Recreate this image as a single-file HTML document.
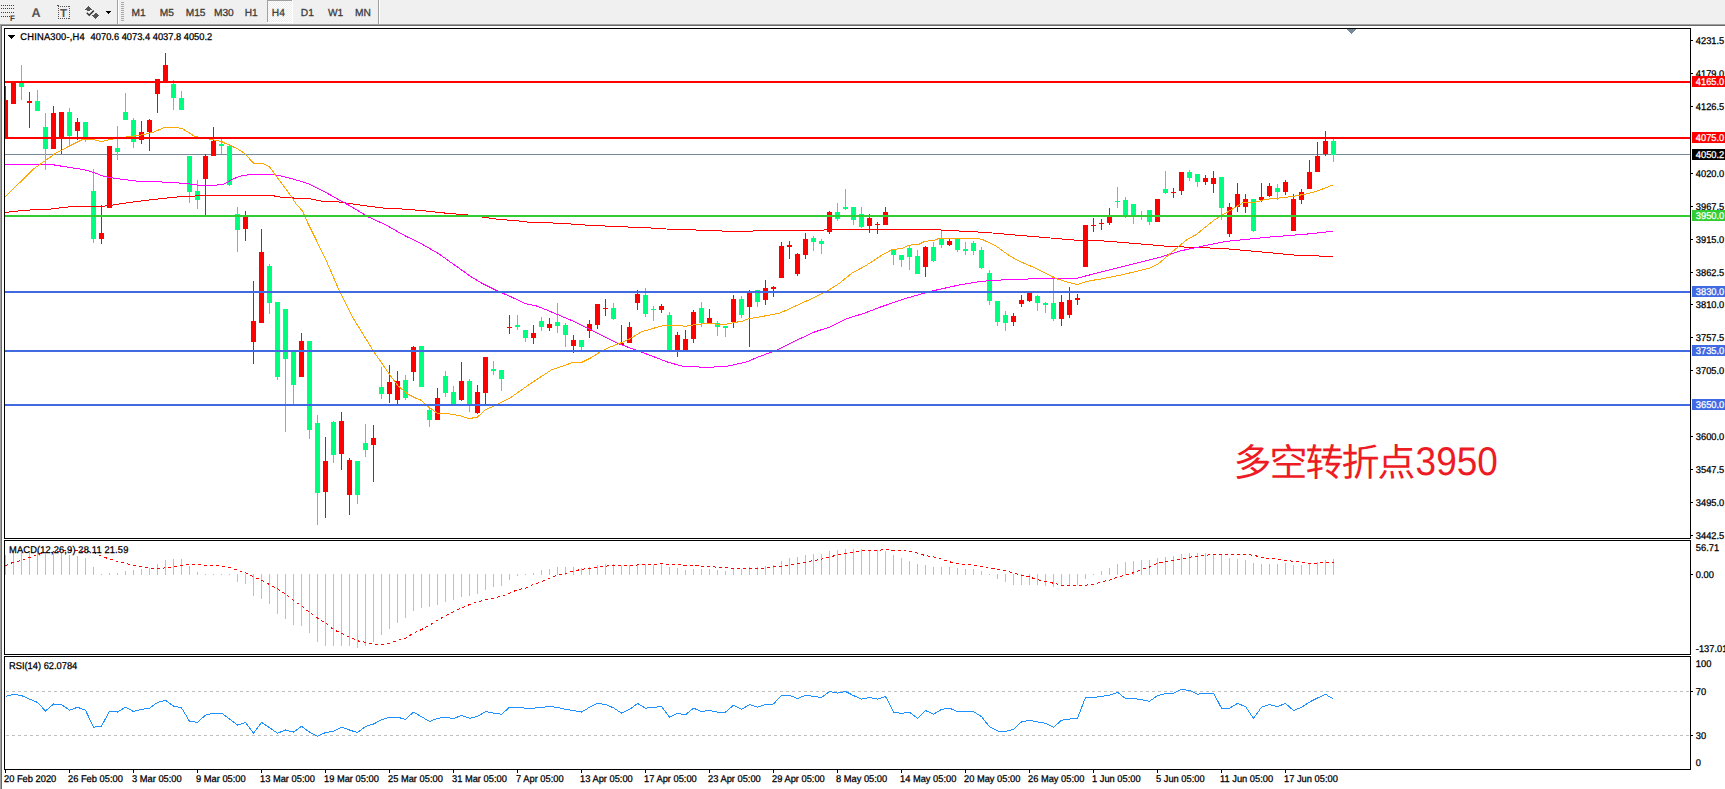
<!DOCTYPE html>
<html><head><meta charset="utf-8"><title>CHINA300 H4</title>
<style>
html,body{margin:0;padding:0;width:1725px;height:789px;overflow:hidden;background:#fff}
svg{position:absolute;left:0;top:0;display:block}
text{font-family:"Liberation Sans",sans-serif;font-size:9.8px;text-rendering:geometricPrecision}
</style></head><body>
<svg width="1725" height="789" viewBox="0 0 1725 789" shape-rendering="crispEdges">
<defs><pattern id="chk" width="2" height="2" patternUnits="userSpaceOnUse"><rect width="2" height="2" fill="#fff"/><rect width="1" height="1" fill="#ececec"/><rect x="1" y="1" width="1" height="1" fill="#ececec"/></pattern></defs>
<rect x="0" y="0" width="1725" height="24" fill="#f0f0f0"/>
<rect x="0" y="24" width="1725" height="1" fill="#a0a0a0"/>
<rect x="0" y="25" width="1725" height="1" fill="#696969"/>
<rect x="0" y="24" width="1" height="765" fill="#a0a0a0"/>
<rect x="1" y="25" width="1" height="764" fill="#696969"/>
<defs><clipPath id="cm"><rect x="5" y="29" width="1685" height="509"/></clipPath><clipPath id="cd"><rect x="5" y="541" width="1685" height="113"/></clipPath><clipPath id="cr"><rect x="5" y="657" width="1685" height="112"/></clipPath></defs>
<g clip-path="url(#cm)">
<rect x="5" y="154" width="1685" height="1" fill="#778899"/>
<rect x="5" y="86" width="1" height="51" fill="#ff0000"/>
<rect x="3" y="100" width="5" height="37" fill="#ff0000"/>
<rect x="13" y="82" width="1" height="22" fill="#ff0000"/>
<rect x="11" y="82" width="5" height="22" fill="#ff0000"/>
<rect x="21" y="65" width="1" height="35" fill="#00ff7f"/>
<rect x="19" y="82" width="5" height="5" fill="#00ff7f"/>
<rect x="29" y="92" width="1" height="36" fill="#ff0000"/>
<rect x="27" y="101" width="5" height="2" fill="#ff0000"/>
<rect x="37" y="90" width="1" height="21" fill="#00ff7f"/>
<rect x="35" y="101" width="5" height="10" fill="#00ff7f"/>
<rect x="45" y="113" width="1" height="57" fill="#00ff7f"/>
<rect x="43" y="127" width="5" height="22" fill="#00ff7f"/>
<rect x="53" y="106" width="1" height="43" fill="#ff0000"/>
<rect x="51" y="113" width="5" height="36" fill="#ff0000"/>
<rect x="61" y="112" width="1" height="42" fill="#ff0000"/>
<rect x="59" y="112" width="5" height="27" fill="#ff0000"/>
<rect x="69" y="108" width="1" height="38" fill="#00ff7f"/>
<rect x="67" y="112" width="5" height="24" fill="#00ff7f"/>
<rect x="77" y="118" width="1" height="22" fill="#ff0000"/>
<rect x="75" y="122" width="5" height="9" fill="#ff0000"/>
<rect x="85" y="122" width="1" height="20" fill="#00ff7f"/>
<rect x="83" y="122" width="5" height="15" fill="#00ff7f"/>
<rect x="93" y="169" width="1" height="74" fill="#00ff7f"/>
<rect x="91" y="191" width="5" height="48" fill="#00ff7f"/>
<rect x="101" y="205" width="1" height="39" fill="#ff0000"/>
<rect x="99" y="233" width="5" height="6" fill="#ff0000"/>
<rect x="109" y="146" width="1" height="62" fill="#ff0000"/>
<rect x="107" y="146" width="5" height="62" fill="#ff0000"/>
<rect x="117" y="126" width="1" height="34" fill="#00ff7f"/>
<rect x="115" y="148" width="5" height="4" fill="#00ff7f"/>
<rect x="125" y="93" width="1" height="27" fill="#00ff7f"/>
<rect x="123" y="112" width="5" height="8" fill="#00ff7f"/>
<rect x="133" y="118" width="1" height="30" fill="#00ff7f"/>
<rect x="131" y="120" width="5" height="22" fill="#00ff7f"/>
<rect x="141" y="121" width="1" height="23" fill="#ff0000"/>
<rect x="139" y="132" width="5" height="8" fill="#ff0000"/>
<rect x="149" y="119" width="1" height="32" fill="#ff0000"/>
<rect x="147" y="120" width="5" height="12" fill="#ff0000"/>
<rect x="157" y="79" width="1" height="34" fill="#ff0000"/>
<rect x="155" y="79" width="5" height="15" fill="#ff0000"/>
<rect x="165" y="53" width="1" height="29" fill="#ff0000"/>
<rect x="163" y="65" width="5" height="17" fill="#ff0000"/>
<rect x="173" y="80" width="1" height="30" fill="#00ff7f"/>
<rect x="171" y="84" width="5" height="14" fill="#00ff7f"/>
<rect x="181" y="91" width="1" height="19" fill="#00ff7f"/>
<rect x="179" y="98" width="5" height="12" fill="#00ff7f"/>
<rect x="189" y="156" width="1" height="47" fill="#00ff7f"/>
<rect x="187" y="156" width="5" height="36" fill="#00ff7f"/>
<rect x="197" y="180" width="1" height="29" fill="#00ff7f"/>
<rect x="195" y="191" width="5" height="9" fill="#00ff7f"/>
<rect x="205" y="154" width="1" height="63" fill="#ff0000"/>
<rect x="203" y="156" width="5" height="23" fill="#ff0000"/>
<rect x="213" y="127" width="1" height="29" fill="#ff0000"/>
<rect x="211" y="141" width="5" height="15" fill="#ff0000"/>
<rect x="221" y="139" width="1" height="15" fill="#00ff7f"/>
<rect x="219" y="144" width="5" height="2" fill="#00ff7f"/>
<rect x="229" y="144" width="1" height="42" fill="#00ff7f"/>
<rect x="227" y="146" width="5" height="39" fill="#00ff7f"/>
<rect x="237" y="207" width="1" height="45" fill="#00ff7f"/>
<rect x="235" y="214" width="5" height="16" fill="#00ff7f"/>
<rect x="245" y="211" width="1" height="30" fill="#ff0000"/>
<rect x="243" y="216" width="5" height="13" fill="#ff0000"/>
<rect x="253" y="281" width="1" height="83" fill="#ff0000"/>
<rect x="251" y="321" width="5" height="21" fill="#ff0000"/>
<rect x="261" y="229" width="1" height="94" fill="#ff0000"/>
<rect x="259" y="252" width="5" height="71" fill="#ff0000"/>
<rect x="269" y="264" width="1" height="50" fill="#00ff7f"/>
<rect x="267" y="266" width="5" height="37" fill="#00ff7f"/>
<rect x="277" y="302" width="1" height="78" fill="#00ff7f"/>
<rect x="275" y="302" width="5" height="75" fill="#00ff7f"/>
<rect x="285" y="309" width="1" height="123" fill="#00ff7f"/>
<rect x="283" y="309" width="5" height="50" fill="#00ff7f"/>
<rect x="293" y="352" width="1" height="52" fill="#00ff7f"/>
<rect x="291" y="352" width="5" height="33" fill="#00ff7f"/>
<rect x="301" y="333" width="1" height="44" fill="#ff0000"/>
<rect x="299" y="341" width="5" height="36" fill="#ff0000"/>
<rect x="309" y="341" width="1" height="98" fill="#00ff7f"/>
<rect x="307" y="341" width="5" height="89" fill="#00ff7f"/>
<rect x="317" y="415" width="1" height="110" fill="#00ff7f"/>
<rect x="315" y="423" width="5" height="70" fill="#00ff7f"/>
<rect x="325" y="437" width="1" height="81" fill="#ff0000"/>
<rect x="323" y="461" width="5" height="31" fill="#ff0000"/>
<rect x="333" y="421" width="1" height="42" fill="#00ff7f"/>
<rect x="331" y="422" width="5" height="33" fill="#00ff7f"/>
<rect x="341" y="412" width="1" height="58" fill="#ff0000"/>
<rect x="339" y="421" width="5" height="33" fill="#ff0000"/>
<rect x="349" y="458" width="1" height="57" fill="#ff0000"/>
<rect x="347" y="460" width="5" height="35" fill="#ff0000"/>
<rect x="357" y="461" width="1" height="43" fill="#00ff7f"/>
<rect x="355" y="461" width="5" height="34" fill="#00ff7f"/>
<rect x="365" y="424" width="1" height="33" fill="#00ff7f"/>
<rect x="363" y="443" width="5" height="7" fill="#00ff7f"/>
<rect x="373" y="425" width="1" height="57" fill="#ff0000"/>
<rect x="371" y="438" width="5" height="7" fill="#ff0000"/>
<rect x="381" y="367" width="1" height="32" fill="#00ff7f"/>
<rect x="379" y="387" width="5" height="7" fill="#00ff7f"/>
<rect x="389" y="365" width="1" height="38" fill="#ff0000"/>
<rect x="387" y="382" width="5" height="12" fill="#ff0000"/>
<rect x="397" y="371" width="1" height="33" fill="#ff0000"/>
<rect x="395" y="381" width="5" height="19" fill="#ff0000"/>
<rect x="405" y="375" width="1" height="25" fill="#00ff7f"/>
<rect x="403" y="380" width="5" height="18" fill="#00ff7f"/>
<rect x="413" y="346" width="1" height="35" fill="#ff0000"/>
<rect x="411" y="347" width="5" height="25" fill="#ff0000"/>
<rect x="421" y="346" width="1" height="41" fill="#00ff7f"/>
<rect x="419" y="346" width="5" height="41" fill="#00ff7f"/>
<rect x="429" y="407" width="1" height="20" fill="#00ff7f"/>
<rect x="427" y="410" width="5" height="10" fill="#00ff7f"/>
<rect x="437" y="388" width="1" height="32" fill="#ff0000"/>
<rect x="435" y="398" width="5" height="22" fill="#ff0000"/>
<rect x="445" y="371" width="1" height="26" fill="#00ff7f"/>
<rect x="443" y="376" width="5" height="17" fill="#00ff7f"/>
<rect x="453" y="386" width="1" height="18" fill="#00ff7f"/>
<rect x="451" y="392" width="5" height="12" fill="#00ff7f"/>
<rect x="461" y="362" width="1" height="39" fill="#ff0000"/>
<rect x="459" y="381" width="5" height="19" fill="#ff0000"/>
<rect x="469" y="379" width="1" height="33" fill="#00ff7f"/>
<rect x="467" y="381" width="5" height="25" fill="#00ff7f"/>
<rect x="477" y="385" width="1" height="29" fill="#ff0000"/>
<rect x="475" y="392" width="5" height="21" fill="#ff0000"/>
<rect x="485" y="357" width="1" height="47" fill="#ff0000"/>
<rect x="483" y="357" width="5" height="36" fill="#ff0000"/>
<rect x="493" y="361" width="1" height="14" fill="#00ff7f"/>
<rect x="491" y="369" width="5" height="2" fill="#00ff7f"/>
<rect x="501" y="370" width="1" height="21" fill="#00ff7f"/>
<rect x="499" y="370" width="5" height="9" fill="#00ff7f"/>
<rect x="509" y="315" width="1" height="19" fill="#ff0000"/>
<rect x="507" y="327" width="5" height="1" fill="#ff0000"/>
<rect x="517" y="315" width="1" height="15" fill="#00ff7f"/>
<rect x="515" y="325" width="5" height="2" fill="#00ff7f"/>
<rect x="525" y="330" width="1" height="12" fill="#00ff7f"/>
<rect x="523" y="330" width="5" height="8" fill="#00ff7f"/>
<rect x="533" y="325" width="1" height="19" fill="#ff0000"/>
<rect x="531" y="333" width="5" height="5" fill="#ff0000"/>
<rect x="541" y="317" width="1" height="14" fill="#00ff7f"/>
<rect x="539" y="321" width="5" height="6" fill="#00ff7f"/>
<rect x="549" y="318" width="1" height="13" fill="#ff0000"/>
<rect x="547" y="324" width="5" height="4" fill="#ff0000"/>
<rect x="557" y="303" width="1" height="30" fill="#00ff7f"/>
<rect x="555" y="322" width="5" height="4" fill="#00ff7f"/>
<rect x="565" y="323" width="1" height="24" fill="#00ff7f"/>
<rect x="563" y="325" width="5" height="10" fill="#00ff7f"/>
<rect x="573" y="335" width="1" height="18" fill="#ff0000"/>
<rect x="571" y="340" width="5" height="6" fill="#ff0000"/>
<rect x="581" y="340" width="1" height="10" fill="#00ff7f"/>
<rect x="579" y="340" width="5" height="7" fill="#00ff7f"/>
<rect x="589" y="320" width="1" height="18" fill="#ff0000"/>
<rect x="587" y="324" width="5" height="7" fill="#ff0000"/>
<rect x="597" y="304" width="1" height="25" fill="#ff0000"/>
<rect x="595" y="304" width="5" height="21" fill="#ff0000"/>
<rect x="605" y="299" width="1" height="17" fill="#ff0000"/>
<rect x="603" y="308" width="5" height="1" fill="#ff0000"/>
<rect x="613" y="303" width="1" height="17" fill="#00ff7f"/>
<rect x="611" y="308" width="5" height="11" fill="#00ff7f"/>
<rect x="621" y="325" width="1" height="20" fill="#ff0000"/>
<rect x="619" y="343" width="5" height="2" fill="#ff0000"/>
<rect x="629" y="322" width="1" height="21" fill="#ff0000"/>
<rect x="627" y="327" width="5" height="16" fill="#ff0000"/>
<rect x="637" y="290" width="1" height="20" fill="#ff0000"/>
<rect x="635" y="294" width="5" height="9" fill="#ff0000"/>
<rect x="645" y="288" width="1" height="29" fill="#00ff7f"/>
<rect x="643" y="295" width="5" height="19" fill="#00ff7f"/>
<rect x="653" y="306" width="1" height="15" fill="#00ff7f"/>
<rect x="651" y="309" width="5" height="1" fill="#00ff7f"/>
<rect x="661" y="304" width="1" height="9" fill="#ff0000"/>
<rect x="659" y="306" width="5" height="4" fill="#ff0000"/>
<rect x="669" y="312" width="1" height="38" fill="#00ff7f"/>
<rect x="667" y="315" width="5" height="35" fill="#00ff7f"/>
<rect x="677" y="332" width="1" height="25" fill="#ff0000"/>
<rect x="675" y="335" width="5" height="15" fill="#ff0000"/>
<rect x="685" y="330" width="1" height="20" fill="#ff0000"/>
<rect x="683" y="339" width="5" height="11" fill="#ff0000"/>
<rect x="693" y="310" width="1" height="33" fill="#ff0000"/>
<rect x="691" y="312" width="5" height="27" fill="#ff0000"/>
<rect x="701" y="302" width="1" height="25" fill="#00ff7f"/>
<rect x="699" y="308" width="5" height="15" fill="#00ff7f"/>
<rect x="709" y="309" width="1" height="14" fill="#ff0000"/>
<rect x="707" y="318" width="5" height="5" fill="#ff0000"/>
<rect x="717" y="321" width="1" height="15" fill="#00ff7f"/>
<rect x="715" y="323" width="5" height="4" fill="#00ff7f"/>
<rect x="725" y="326" width="1" height="11" fill="#00ff7f"/>
<rect x="723" y="326" width="5" height="2" fill="#00ff7f"/>
<rect x="733" y="295" width="1" height="33" fill="#ff0000"/>
<rect x="731" y="299" width="5" height="23" fill="#ff0000"/>
<rect x="741" y="296" width="1" height="22" fill="#00ff7f"/>
<rect x="739" y="299" width="5" height="16" fill="#00ff7f"/>
<rect x="749" y="290" width="1" height="57" fill="#ff0000"/>
<rect x="747" y="292" width="5" height="15" fill="#ff0000"/>
<rect x="757" y="290" width="1" height="17" fill="#00ff7f"/>
<rect x="755" y="290" width="5" height="12" fill="#00ff7f"/>
<rect x="765" y="280" width="1" height="25" fill="#ff0000"/>
<rect x="763" y="288" width="5" height="12" fill="#ff0000"/>
<rect x="773" y="286" width="1" height="11" fill="#ff0000"/>
<rect x="771" y="287" width="5" height="2" fill="#ff0000"/>
<rect x="781" y="242" width="1" height="36" fill="#ff0000"/>
<rect x="779" y="246" width="5" height="32" fill="#ff0000"/>
<rect x="789" y="241" width="1" height="18" fill="#ff0000"/>
<rect x="787" y="245" width="5" height="2" fill="#ff0000"/>
<rect x="797" y="253" width="1" height="23" fill="#ff0000"/>
<rect x="795" y="254" width="5" height="20" fill="#ff0000"/>
<rect x="805" y="233" width="1" height="26" fill="#ff0000"/>
<rect x="803" y="239" width="5" height="16" fill="#ff0000"/>
<rect x="813" y="236" width="1" height="15" fill="#00ff7f"/>
<rect x="811" y="238" width="5" height="4" fill="#00ff7f"/>
<rect x="821" y="239" width="1" height="15" fill="#00ff7f"/>
<rect x="819" y="241" width="5" height="3" fill="#00ff7f"/>
<rect x="829" y="211" width="1" height="23" fill="#ff0000"/>
<rect x="827" y="212" width="5" height="20" fill="#ff0000"/>
<rect x="837" y="203" width="1" height="18" fill="#00ff7f"/>
<rect x="835" y="212" width="5" height="7" fill="#00ff7f"/>
<rect x="845" y="189" width="1" height="21" fill="#00ff7f"/>
<rect x="843" y="207" width="5" height="2" fill="#00ff7f"/>
<rect x="853" y="207" width="1" height="18" fill="#00ff7f"/>
<rect x="851" y="207" width="5" height="13" fill="#00ff7f"/>
<rect x="861" y="207" width="1" height="21" fill="#00ff7f"/>
<rect x="859" y="214" width="5" height="13" fill="#00ff7f"/>
<rect x="869" y="214" width="1" height="19" fill="#ff0000"/>
<rect x="867" y="218" width="5" height="8" fill="#ff0000"/>
<rect x="877" y="222" width="1" height="12" fill="#ff0000"/>
<rect x="875" y="224" width="5" height="1" fill="#ff0000"/>
<rect x="885" y="207" width="1" height="18" fill="#ff0000"/>
<rect x="883" y="212" width="5" height="13" fill="#ff0000"/>
<rect x="893" y="249" width="1" height="16" fill="#00ff7f"/>
<rect x="891" y="250" width="5" height="5" fill="#00ff7f"/>
<rect x="901" y="255" width="1" height="12" fill="#00ff7f"/>
<rect x="899" y="255" width="5" height="5" fill="#00ff7f"/>
<rect x="909" y="246" width="1" height="24" fill="#00ff7f"/>
<rect x="907" y="248" width="5" height="9" fill="#00ff7f"/>
<rect x="917" y="250" width="1" height="24" fill="#00ff7f"/>
<rect x="915" y="256" width="5" height="18" fill="#00ff7f"/>
<rect x="925" y="246" width="1" height="31" fill="#ff0000"/>
<rect x="923" y="247" width="5" height="20" fill="#ff0000"/>
<rect x="933" y="242" width="1" height="20" fill="#00ff7f"/>
<rect x="931" y="247" width="5" height="14" fill="#00ff7f"/>
<rect x="941" y="231" width="1" height="17" fill="#00ff7f"/>
<rect x="939" y="239" width="5" height="6" fill="#00ff7f"/>
<rect x="949" y="239" width="1" height="7" fill="#ff0000"/>
<rect x="947" y="241" width="5" height="4" fill="#ff0000"/>
<rect x="957" y="239" width="1" height="13" fill="#00ff7f"/>
<rect x="955" y="239" width="5" height="11" fill="#00ff7f"/>
<rect x="965" y="242" width="1" height="13" fill="#00ff7f"/>
<rect x="963" y="249" width="5" height="2" fill="#00ff7f"/>
<rect x="973" y="241" width="1" height="14" fill="#00ff7f"/>
<rect x="971" y="243" width="5" height="8" fill="#00ff7f"/>
<rect x="981" y="247" width="1" height="22" fill="#00ff7f"/>
<rect x="979" y="250" width="5" height="18" fill="#00ff7f"/>
<rect x="989" y="270" width="1" height="35" fill="#00ff7f"/>
<rect x="987" y="273" width="5" height="28" fill="#00ff7f"/>
<rect x="997" y="301" width="1" height="25" fill="#00ff7f"/>
<rect x="995" y="301" width="5" height="21" fill="#00ff7f"/>
<rect x="1005" y="311" width="1" height="20" fill="#00ff7f"/>
<rect x="1003" y="315" width="5" height="8" fill="#00ff7f"/>
<rect x="1013" y="313" width="1" height="13" fill="#ff0000"/>
<rect x="1011" y="316" width="5" height="6" fill="#ff0000"/>
<rect x="1021" y="295" width="1" height="12" fill="#ff0000"/>
<rect x="1019" y="300" width="5" height="4" fill="#ff0000"/>
<rect x="1029" y="293" width="1" height="9" fill="#ff0000"/>
<rect x="1027" y="293" width="5" height="8" fill="#ff0000"/>
<rect x="1037" y="295" width="1" height="16" fill="#00ff7f"/>
<rect x="1035" y="296" width="5" height="7" fill="#00ff7f"/>
<rect x="1045" y="302" width="1" height="11" fill="#00ff7f"/>
<rect x="1043" y="303" width="5" height="2" fill="#00ff7f"/>
<rect x="1053" y="276" width="1" height="45" fill="#00ff7f"/>
<rect x="1051" y="303" width="5" height="16" fill="#00ff7f"/>
<rect x="1061" y="295" width="1" height="31" fill="#ff0000"/>
<rect x="1059" y="302" width="5" height="17" fill="#ff0000"/>
<rect x="1069" y="287" width="1" height="31" fill="#ff0000"/>
<rect x="1067" y="300" width="5" height="15" fill="#ff0000"/>
<rect x="1077" y="294" width="1" height="11" fill="#ff0000"/>
<rect x="1075" y="298" width="5" height="2" fill="#ff0000"/>
<rect x="1085" y="225" width="1" height="42" fill="#ff0000"/>
<rect x="1083" y="225" width="5" height="42" fill="#ff0000"/>
<rect x="1093" y="218" width="1" height="14" fill="#ff0000"/>
<rect x="1091" y="225" width="5" height="1" fill="#ff0000"/>
<rect x="1101" y="219" width="1" height="11" fill="#ff0000"/>
<rect x="1099" y="223" width="5" height="1" fill="#ff0000"/>
<rect x="1109" y="208" width="1" height="17" fill="#ff0000"/>
<rect x="1107" y="217" width="5" height="6" fill="#ff0000"/>
<rect x="1117" y="187" width="1" height="21" fill="#00ff7f"/>
<rect x="1115" y="201" width="5" height="1" fill="#00ff7f"/>
<rect x="1125" y="197" width="1" height="21" fill="#00ff7f"/>
<rect x="1123" y="200" width="5" height="16" fill="#00ff7f"/>
<rect x="1133" y="204" width="1" height="20" fill="#00ff7f"/>
<rect x="1131" y="204" width="5" height="12" fill="#00ff7f"/>
<rect x="1141" y="211" width="1" height="9" fill="#00ff7f"/>
<rect x="1139" y="215" width="5" height="1" fill="#00ff7f"/>
<rect x="1149" y="210" width="1" height="15" fill="#00ff7f"/>
<rect x="1147" y="210" width="5" height="12" fill="#00ff7f"/>
<rect x="1157" y="199" width="1" height="23" fill="#ff0000"/>
<rect x="1155" y="199" width="5" height="23" fill="#ff0000"/>
<rect x="1165" y="171" width="1" height="23" fill="#00ff7f"/>
<rect x="1163" y="189" width="5" height="4" fill="#00ff7f"/>
<rect x="1173" y="188" width="1" height="10" fill="#ff0000"/>
<rect x="1171" y="192" width="5" height="1" fill="#ff0000"/>
<rect x="1181" y="172" width="1" height="23" fill="#ff0000"/>
<rect x="1179" y="172" width="5" height="19" fill="#ff0000"/>
<rect x="1189" y="170" width="1" height="11" fill="#00ff7f"/>
<rect x="1187" y="172" width="5" height="6" fill="#00ff7f"/>
<rect x="1197" y="174" width="1" height="13" fill="#00ff7f"/>
<rect x="1195" y="174" width="5" height="8" fill="#00ff7f"/>
<rect x="1205" y="175" width="1" height="10" fill="#ff0000"/>
<rect x="1203" y="178" width="5" height="4" fill="#ff0000"/>
<rect x="1213" y="171" width="1" height="22" fill="#ff0000"/>
<rect x="1211" y="178" width="5" height="6" fill="#ff0000"/>
<rect x="1221" y="177" width="1" height="43" fill="#00ff7f"/>
<rect x="1219" y="177" width="5" height="31" fill="#00ff7f"/>
<rect x="1229" y="203" width="1" height="34" fill="#ff0000"/>
<rect x="1227" y="207" width="5" height="27" fill="#ff0000"/>
<rect x="1237" y="183" width="1" height="29" fill="#ff0000"/>
<rect x="1235" y="194" width="5" height="13" fill="#ff0000"/>
<rect x="1245" y="194" width="1" height="19" fill="#ff0000"/>
<rect x="1243" y="199" width="5" height="8" fill="#ff0000"/>
<rect x="1253" y="199" width="1" height="33" fill="#00ff7f"/>
<rect x="1251" y="199" width="5" height="32" fill="#00ff7f"/>
<rect x="1261" y="183" width="1" height="19" fill="#ff0000"/>
<rect x="1259" y="197" width="5" height="3" fill="#ff0000"/>
<rect x="1269" y="183" width="1" height="14" fill="#ff0000"/>
<rect x="1267" y="186" width="5" height="10" fill="#ff0000"/>
<rect x="1277" y="184" width="1" height="16" fill="#00ff7f"/>
<rect x="1275" y="188" width="5" height="4" fill="#00ff7f"/>
<rect x="1285" y="180" width="1" height="15" fill="#ff0000"/>
<rect x="1283" y="182" width="5" height="10" fill="#ff0000"/>
<rect x="1293" y="194" width="1" height="37" fill="#ff0000"/>
<rect x="1291" y="199" width="5" height="32" fill="#ff0000"/>
<rect x="1301" y="189" width="1" height="15" fill="#ff0000"/>
<rect x="1299" y="192" width="5" height="8" fill="#ff0000"/>
<rect x="1309" y="160" width="1" height="29" fill="#ff0000"/>
<rect x="1307" y="172" width="5" height="17" fill="#ff0000"/>
<rect x="1317" y="142" width="1" height="30" fill="#ff0000"/>
<rect x="1315" y="156" width="5" height="16" fill="#ff0000"/>
<rect x="1325" y="131" width="1" height="25" fill="#ff0000"/>
<rect x="1323" y="141" width="5" height="13" fill="#ff0000"/>
<rect x="1333" y="139" width="1" height="23" fill="#00ff7f"/>
<rect x="1331" y="141" width="5" height="14" fill="#00ff7f"/>
<polyline points="5,212.5 25.3,210.2 48.2,209.3 65.9,207.2 73.5,206.5 101.4,206.5 112.8,205 135.6,201.6 158.5,198.9 181.3,196.6 200,195.8 208.7,195.3 225,195.2 273.8,195.2 274.5,196.6 297.5,198.3 311.4,199 322.6,201.4 335,201.4 340.4,202.2 360.9,205.2 386,208.4 402,209 422.5,210.6 449.9,213.6 465.8,214.7 481.8,217 497.8,219.3 520.6,221.1 532,222.7 550,222.8 570.5,224 586.5,225.1 609.3,226.2 625.3,226.9 648.1,227.8 666.4,229 698.3,230.1 730.3,231.3 801,230.4 842.1,229.7 890,229.4 938.7,229.9 986.7,232.5 1026.7,236 1080,240.5 1098,240.6 1113.5,241.7 1130.2,243.1 1147,244.5 1170.7,246.6 1200,247.5 1226.7,248.8 1253.3,251.2 1296,255.2 1333,256.5" fill="none" stroke="#ff0000" stroke-width="1" />
<polyline points="5,164.3 54.5,165 65.9,166.9 82.4,169.4 90,171.2 105.2,176.8 120.4,179.1 138.7,181.4 169.1,182.2 187.4,183.7 200,185.5 211.2,185.8 221.4,184.5 225,183.7 233.4,178.8 243.1,175.3 257.1,174.3 271,174.3 280.8,176 294.7,179.5 308.6,183.7 322.6,190.6 335,197.6 349.5,205.6 367.7,216.6 386,225 404.2,235.3 422.5,244.4 438.4,253.5 454.4,264.9 470.4,276.3 481.8,283.2 497.8,291.2 511.4,296.9 525.1,303.7 536.5,306 548,310.5 572.8,321 595.6,332.4 618.5,343.8 634.4,349.5 652.7,356.3 668.7,362.5 684.6,366.6 709.7,367.3 728,366.1 746.3,362 760,356.3 775.9,350.6 796.5,340.3 814.7,331.9 830.7,326.7 846.7,318.7 864.9,313 880,307.2 906.7,298.1 933.3,290.7 960,284.8 981.3,281.3 1013.3,279.2 1053.3,278.7 1077.3,278.1 1101.3,272 1133.3,264 1160,257.3 1181.3,250.7 1200,246.7 1226.7,241.3 1266.7,237.3 1306.7,234.1 1333,231.2" fill="none" stroke="#ff00ff" stroke-width="1" />
<polyline points="5,197.3 17.7,184.6 33,169.4 41.8,163.1 55.8,153.2 68.4,146.6 83.6,139 91.2,139 101.4,141.5 111.5,139.3 129.6,136.5 140.2,135.3 153.9,132 164.5,127.4 176.7,127.4 182.8,128.9 195,136.5 221,141.3 225,143.2 230.6,145.6 237.5,148.8 244.5,153.4 253.6,163.2 262,163.2 269.6,166.9 275.2,174.6 283.6,185.8 290.5,195.5 296.1,203.9 302.4,210.9 308.6,224.8 315.6,238.7 326.2,260.4 339.2,290.6 352.1,316.4 369.4,344.5 372.4,349.6 389.4,374.2 397.9,385.8 407.7,394.1 416,398.3 421.6,400.4 427.2,406 436.9,413 448.1,413.7 460.6,415.8 469,418.6 477.4,417.2 485.7,409.5 494.1,406 502.5,401.8 510,398 530,384 551.3,370 566.2,365 573,362.2 582.2,362.2 591.3,357.6 600.4,351.9 609.5,347.3 619.8,343.3 628.9,339.3 641.4,331.9 652.8,328.5 660.8,326.2 667.6,325.4 681.3,325.4 684.8,326.5 689.3,325.4 698.4,324.3 709.8,323.3 716.7,324.3 725.8,324.3 732.7,322.8 741.8,321.3 748.6,318.8 755.5,317.6 766.9,315.6 773.7,314.2 780,313.1 808.7,300 828.5,290.3 839.1,283.5 851.3,273.6 866.5,265.2 881.7,255.3 892.4,249.5 902.2,248.5 908.8,245.2 918.7,244.4 924.5,241.5 934.4,240.2 939.3,238.3 978,238.3 983,239.8 995.3,245.6 1000,248.9 1008.5,255 1018,260.7 1029.4,265.5 1041.8,271.2 1052.3,276.9 1058,279.2 1069.4,282.6 1077.5,284.7 1084.6,282.1 1091.2,280.5 1100,279.2 1121.1,275 1149.7,268.2 1158.1,264 1169.3,254.3 1177.6,247.3 1186,240.3 1197.2,234 1200,231.4 1214.6,219.7 1229.1,211 1243.7,202.2 1255.4,202.2 1265.6,199.3 1281.6,197.8 1294.7,196.1 1304.9,194.2 1316.5,191.3 1333,185" fill="none" stroke="#ffa500" stroke-width="1" />
<rect x="5" y="81" width="1685" height="2" fill="#ff0000"/>
<rect x="5" y="137" width="1685" height="2" fill="#ff0000"/>
<rect x="5" y="215" width="1685" height="2" fill="#32cd32"/>
<rect x="5" y="291" width="1685" height="2" fill="#4169e1"/>
<rect x="5" y="350" width="1685" height="2" fill="#4169e1"/>
<rect x="5" y="404" width="1685" height="2" fill="#4169e1"/>
</g>
<polygon points="1347,29 1356,29 1351.5,34" fill="#778899"/>
<g clip-path="url(#cd)">
<rect x="5" y="555" width="1" height="20" fill="#c0c0c0"/>
<rect x="13" y="552" width="1" height="23" fill="#c0c0c0"/>
<rect x="21" y="552" width="1" height="23" fill="#c0c0c0"/>
<rect x="29" y="551" width="1" height="24" fill="#c0c0c0"/>
<rect x="37" y="551" width="1" height="24" fill="#c0c0c0"/>
<rect x="45" y="552" width="1" height="23" fill="#c0c0c0"/>
<rect x="53" y="552" width="1" height="23" fill="#c0c0c0"/>
<rect x="61" y="553" width="1" height="22" fill="#c0c0c0"/>
<rect x="69" y="555" width="1" height="20" fill="#c0c0c0"/>
<rect x="77" y="556" width="1" height="19" fill="#c0c0c0"/>
<rect x="85" y="558" width="1" height="17" fill="#c0c0c0"/>
<rect x="93" y="567" width="1" height="8" fill="#c0c0c0"/>
<rect x="101" y="574" width="1" height="1" fill="#c0c0c0"/>
<rect x="109" y="573" width="1" height="2" fill="#c0c0c0"/>
<rect x="117" y="573" width="1" height="2" fill="#c0c0c0"/>
<rect x="125" y="571" width="1" height="4" fill="#c0c0c0"/>
<rect x="133" y="570" width="1" height="5" fill="#c0c0c0"/>
<rect x="141" y="569" width="1" height="6" fill="#c0c0c0"/>
<rect x="149" y="568" width="1" height="7" fill="#c0c0c0"/>
<rect x="157" y="564" width="1" height="11" fill="#c0c0c0"/>
<rect x="165" y="560" width="1" height="15" fill="#c0c0c0"/>
<rect x="173" y="559" width="1" height="16" fill="#c0c0c0"/>
<rect x="181" y="559" width="1" height="16" fill="#c0c0c0"/>
<rect x="189" y="566" width="1" height="9" fill="#c0c0c0"/>
<rect x="197" y="572" width="1" height="3" fill="#c0c0c0"/>
<rect x="205" y="574" width="1" height="1" fill="#c0c0c0"/>
<rect x="213" y="574" width="1" height="1" fill="#c0c0c0"/>
<rect x="221" y="574" width="1" height="1" fill="#c0c0c0"/>
<rect x="229" y="574" width="1" height="1" fill="#c0c0c0"/>
<rect x="237" y="574" width="1" height="8" fill="#c0c0c0"/>
<rect x="245" y="574" width="1" height="10" fill="#c0c0c0"/>
<rect x="253" y="574" width="1" height="22" fill="#c0c0c0"/>
<rect x="261" y="574" width="1" height="25" fill="#c0c0c0"/>
<rect x="269" y="574" width="1" height="30" fill="#c0c0c0"/>
<rect x="277" y="574" width="1" height="40" fill="#c0c0c0"/>
<rect x="285" y="574" width="1" height="45" fill="#c0c0c0"/>
<rect x="293" y="574" width="1" height="51" fill="#c0c0c0"/>
<rect x="301" y="574" width="1" height="52" fill="#c0c0c0"/>
<rect x="309" y="574" width="1" height="59" fill="#c0c0c0"/>
<rect x="317" y="574" width="1" height="68" fill="#c0c0c0"/>
<rect x="325" y="574" width="1" height="72" fill="#c0c0c0"/>
<rect x="333" y="574" width="1" height="72" fill="#c0c0c0"/>
<rect x="341" y="574" width="1" height="72" fill="#c0c0c0"/>
<rect x="349" y="574" width="1" height="72" fill="#c0c0c0"/>
<rect x="357" y="574" width="1" height="74" fill="#c0c0c0"/>
<rect x="365" y="574" width="1" height="72" fill="#c0c0c0"/>
<rect x="373" y="574" width="1" height="68" fill="#c0c0c0"/>
<rect x="381" y="574" width="1" height="61" fill="#c0c0c0"/>
<rect x="389" y="574" width="1" height="55" fill="#c0c0c0"/>
<rect x="397" y="574" width="1" height="49" fill="#c0c0c0"/>
<rect x="405" y="574" width="1" height="44" fill="#c0c0c0"/>
<rect x="413" y="574" width="1" height="37" fill="#c0c0c0"/>
<rect x="421" y="574" width="1" height="34" fill="#c0c0c0"/>
<rect x="429" y="574" width="1" height="33" fill="#c0c0c0"/>
<rect x="437" y="574" width="1" height="31" fill="#c0c0c0"/>
<rect x="445" y="574" width="1" height="28" fill="#c0c0c0"/>
<rect x="453" y="574" width="1" height="26" fill="#c0c0c0"/>
<rect x="461" y="574" width="1" height="23" fill="#c0c0c0"/>
<rect x="469" y="574" width="1" height="22" fill="#c0c0c0"/>
<rect x="477" y="574" width="1" height="20" fill="#c0c0c0"/>
<rect x="485" y="574" width="1" height="16" fill="#c0c0c0"/>
<rect x="493" y="574" width="1" height="13" fill="#c0c0c0"/>
<rect x="501" y="574" width="1" height="12" fill="#c0c0c0"/>
<rect x="509" y="574" width="1" height="6" fill="#c0c0c0"/>
<rect x="517" y="574" width="1" height="2" fill="#c0c0c0"/>
<rect x="525" y="574" width="1" height="1" fill="#c0c0c0"/>
<rect x="533" y="573" width="1" height="2" fill="#c0c0c0"/>
<rect x="541" y="570" width="1" height="5" fill="#c0c0c0"/>
<rect x="549" y="569" width="1" height="6" fill="#c0c0c0"/>
<rect x="557" y="567" width="1" height="8" fill="#c0c0c0"/>
<rect x="565" y="567" width="1" height="8" fill="#c0c0c0"/>
<rect x="573" y="567" width="1" height="8" fill="#c0c0c0"/>
<rect x="581" y="568" width="1" height="7" fill="#c0c0c0"/>
<rect x="589" y="567" width="1" height="8" fill="#c0c0c0"/>
<rect x="597" y="565" width="1" height="10" fill="#c0c0c0"/>
<rect x="605" y="564" width="1" height="11" fill="#c0c0c0"/>
<rect x="613" y="564" width="1" height="11" fill="#c0c0c0"/>
<rect x="621" y="566" width="1" height="9" fill="#c0c0c0"/>
<rect x="629" y="565" width="1" height="10" fill="#c0c0c0"/>
<rect x="637" y="564" width="1" height="11" fill="#c0c0c0"/>
<rect x="645" y="564" width="1" height="11" fill="#c0c0c0"/>
<rect x="653" y="565" width="1" height="10" fill="#c0c0c0"/>
<rect x="661" y="563" width="1" height="12" fill="#c0c0c0"/>
<rect x="669" y="567" width="1" height="8" fill="#c0c0c0"/>
<rect x="677" y="568" width="1" height="7" fill="#c0c0c0"/>
<rect x="685" y="570" width="1" height="5" fill="#c0c0c0"/>
<rect x="693" y="569" width="1" height="6" fill="#c0c0c0"/>
<rect x="701" y="569" width="1" height="6" fill="#c0c0c0"/>
<rect x="709" y="569" width="1" height="6" fill="#c0c0c0"/>
<rect x="717" y="570" width="1" height="5" fill="#c0c0c0"/>
<rect x="725" y="571" width="1" height="4" fill="#c0c0c0"/>
<rect x="733" y="569" width="1" height="6" fill="#c0c0c0"/>
<rect x="741" y="569" width="1" height="6" fill="#c0c0c0"/>
<rect x="749" y="567" width="1" height="8" fill="#c0c0c0"/>
<rect x="757" y="567" width="1" height="8" fill="#c0c0c0"/>
<rect x="765" y="566" width="1" height="9" fill="#c0c0c0"/>
<rect x="773" y="565" width="1" height="10" fill="#c0c0c0"/>
<rect x="781" y="561" width="1" height="14" fill="#c0c0c0"/>
<rect x="789" y="558" width="1" height="17" fill="#c0c0c0"/>
<rect x="797" y="557" width="1" height="18" fill="#c0c0c0"/>
<rect x="805" y="555" width="1" height="20" fill="#c0c0c0"/>
<rect x="813" y="554" width="1" height="21" fill="#c0c0c0"/>
<rect x="821" y="554" width="1" height="21" fill="#c0c0c0"/>
<rect x="829" y="551" width="1" height="24" fill="#c0c0c0"/>
<rect x="837" y="550" width="1" height="25" fill="#c0c0c0"/>
<rect x="845" y="549" width="1" height="26" fill="#c0c0c0"/>
<rect x="853" y="549" width="1" height="26" fill="#c0c0c0"/>
<rect x="861" y="549" width="1" height="26" fill="#c0c0c0"/>
<rect x="869" y="550" width="1" height="25" fill="#c0c0c0"/>
<rect x="877" y="550" width="1" height="25" fill="#c0c0c0"/>
<rect x="885" y="551" width="1" height="24" fill="#c0c0c0"/>
<rect x="893" y="555" width="1" height="20" fill="#c0c0c0"/>
<rect x="901" y="558" width="1" height="17" fill="#c0c0c0"/>
<rect x="909" y="561" width="1" height="14" fill="#c0c0c0"/>
<rect x="917" y="564" width="1" height="11" fill="#c0c0c0"/>
<rect x="925" y="565" width="1" height="10" fill="#c0c0c0"/>
<rect x="933" y="567" width="1" height="8" fill="#c0c0c0"/>
<rect x="941" y="567" width="1" height="8" fill="#c0c0c0"/>
<rect x="949" y="567" width="1" height="8" fill="#c0c0c0"/>
<rect x="957" y="568" width="1" height="7" fill="#c0c0c0"/>
<rect x="965" y="569" width="1" height="6" fill="#c0c0c0"/>
<rect x="973" y="569" width="1" height="6" fill="#c0c0c0"/>
<rect x="981" y="571" width="1" height="4" fill="#c0c0c0"/>
<rect x="989" y="574" width="1" height="1" fill="#c0c0c0"/>
<rect x="997" y="574" width="1" height="5" fill="#c0c0c0"/>
<rect x="1005" y="574" width="1" height="8" fill="#c0c0c0"/>
<rect x="1013" y="574" width="1" height="11" fill="#c0c0c0"/>
<rect x="1021" y="574" width="1" height="11" fill="#c0c0c0"/>
<rect x="1029" y="574" width="1" height="11" fill="#c0c0c0"/>
<rect x="1037" y="574" width="1" height="11" fill="#c0c0c0"/>
<rect x="1045" y="574" width="1" height="12" fill="#c0c0c0"/>
<rect x="1053" y="574" width="1" height="13" fill="#c0c0c0"/>
<rect x="1061" y="574" width="1" height="11" fill="#c0c0c0"/>
<rect x="1069" y="574" width="1" height="11" fill="#c0c0c0"/>
<rect x="1077" y="574" width="1" height="11" fill="#c0c0c0"/>
<rect x="1085" y="574" width="1" height="5" fill="#c0c0c0"/>
<rect x="1093" y="574" width="1" height="1" fill="#c0c0c0"/>
<rect x="1101" y="571" width="1" height="4" fill="#c0c0c0"/>
<rect x="1109" y="568" width="1" height="7" fill="#c0c0c0"/>
<rect x="1117" y="564" width="1" height="11" fill="#c0c0c0"/>
<rect x="1125" y="562" width="1" height="13" fill="#c0c0c0"/>
<rect x="1133" y="561" width="1" height="14" fill="#c0c0c0"/>
<rect x="1141" y="560" width="1" height="15" fill="#c0c0c0"/>
<rect x="1149" y="560" width="1" height="15" fill="#c0c0c0"/>
<rect x="1157" y="558" width="1" height="17" fill="#c0c0c0"/>
<rect x="1165" y="557" width="1" height="18" fill="#c0c0c0"/>
<rect x="1173" y="556" width="1" height="19" fill="#c0c0c0"/>
<rect x="1181" y="554" width="1" height="21" fill="#c0c0c0"/>
<rect x="1189" y="553" width="1" height="22" fill="#c0c0c0"/>
<rect x="1197" y="553" width="1" height="22" fill="#c0c0c0"/>
<rect x="1205" y="553" width="1" height="22" fill="#c0c0c0"/>
<rect x="1213" y="554" width="1" height="21" fill="#c0c0c0"/>
<rect x="1221" y="555" width="1" height="20" fill="#c0c0c0"/>
<rect x="1229" y="558" width="1" height="17" fill="#c0c0c0"/>
<rect x="1237" y="559" width="1" height="16" fill="#c0c0c0"/>
<rect x="1245" y="560" width="1" height="15" fill="#c0c0c0"/>
<rect x="1253" y="563" width="1" height="12" fill="#c0c0c0"/>
<rect x="1261" y="564" width="1" height="11" fill="#c0c0c0"/>
<rect x="1269" y="564" width="1" height="11" fill="#c0c0c0"/>
<rect x="1277" y="564" width="1" height="11" fill="#c0c0c0"/>
<rect x="1285" y="563" width="1" height="12" fill="#c0c0c0"/>
<rect x="1293" y="565" width="1" height="10" fill="#c0c0c0"/>
<rect x="1301" y="565" width="1" height="10" fill="#c0c0c0"/>
<rect x="1309" y="564" width="1" height="11" fill="#c0c0c0"/>
<rect x="1317" y="562" width="1" height="13" fill="#c0c0c0"/>
<rect x="1325" y="560" width="1" height="15" fill="#c0c0c0"/>
<rect x="1333" y="559" width="1" height="16" fill="#c0c0c0"/>
<polyline points="5.5,565.7 13.5,562.1 21.5,560.5 29.5,557.6 37.5,554.3 45.5,552.7 53.5,552 61.5,551 69.5,550.4 77.5,550.7 85.5,551.5 93.5,552.4 101.5,556 109.5,559.2 117.5,561.3 125.5,563.4 133.5,565.3 141.5,567 149.5,568.3 157.5,569 165.5,567.8 173.5,566.6 181.5,565.3 189.5,564.5 197.5,564.5 205.5,565.3 213.5,565.3 221.5,566.2 229.5,567.3 237.5,570.2 245.5,572.6 253.5,576.7 261.5,580.3 269.5,584.5 277.5,588.9 285.5,593.8 293.5,600.7 301.5,605.6 309.5,612.4 317.5,618.1 325.5,623 333.5,629.5 341.5,633.5 349.5,637.1 357.5,640.8 365.5,642.4 373.5,644.1 381.5,644.4 389.5,643.3 397.5,640.3 405.5,638.1 413.5,633.2 421.5,629.5 429.5,625.4 437.5,620.2 445.5,615.7 453.5,611.6 461.5,607.9 469.5,604.6 477.5,601.9 485.5,599.8 493.5,598.1 501.5,596.2 509.5,593.3 517.5,589.7 525.5,588.1 533.5,584.5 541.5,581.6 549.5,578.3 557.5,575.1 565.5,573.5 573.5,571 581.5,569.4 589.5,568.3 597.5,567.3 605.5,566.2 613.5,565.3 621.5,565.3 629.5,565.3 637.5,565 645.5,564.5 653.5,564.5 661.5,563.4 669.5,564.5 677.5,564.5 685.5,565.3 693.5,565.3 701.5,566.2 709.5,566.2 717.5,567.3 725.5,567.3 733.5,568.3 741.5,568.3 749.5,568.3 757.5,568.3 765.5,568.3 773.5,567 781.5,566.2 789.5,565 797.5,563.7 805.5,562.1 813.5,560.6 821.5,559.2 829.5,557.2 837.5,554.8 845.5,553.2 853.5,552.4 861.5,551 869.5,550.4 877.5,550.4 885.5,549.4 893.5,550.3 901.5,550.4 909.5,551.5 917.5,553.2 925.5,555.6 933.5,556.9 941.5,559.2 949.5,561.8 957.5,563.4 965.5,564.5 973.5,565.3 981.5,566.6 989.5,568.3 997.5,569.4 1005.5,570.5 1013.5,573.1 1021.5,575.4 1029.5,577 1037.5,579.6 1045.5,581.6 1053.5,583.2 1061.5,585.1 1069.5,585.1 1077.5,586.1 1085.5,585.1 1093.5,584.5 1101.5,581.6 1109.5,580.3 1117.5,577 1125.5,575.1 1133.5,572.7 1141.5,569.4 1149.5,567 1157.5,563.4 1165.5,561.3 1173.5,560.5 1181.5,558.9 1189.5,557.2 1197.5,556.4 1205.5,555.3 1213.5,554.3 1221.5,554.3 1229.5,554.3 1237.5,554.3 1245.5,554.3 1253.5,555.3 1261.5,557.2 1269.5,558.5 1277.5,559.2 1285.5,560.5 1293.5,561.3 1301.5,562.1 1309.5,563.4 1317.5,563.4 1325.5,562.1 1333.5,562.1" fill="none" stroke="#ff0000" stroke-width="1" stroke-dasharray="3,3"/>
</g>
<g clip-path="url(#cr)">
<line x1="6" y1="691.5" x2="1690" y2="691.5" stroke="#c0c0c0" stroke-width="1" stroke-dasharray="3,3"/>
<line x1="6" y1="735.5" x2="1690" y2="735.5" stroke="#c0c0c0" stroke-width="1" stroke-dasharray="3,3"/>
<polyline points="5.5,696.4 13.5,694.3 21.5,695.6 29.5,699.1 37.5,702.4 45.5,711 53.5,704 61.5,704.5 69.5,710.2 77.5,707.3 85.5,710.2 93.5,727.2 101.5,726.1 109.5,711.3 117.5,712.1 125.5,707.3 133.5,711.5 141.5,709.4 149.5,708.2 157.5,702.4 165.5,700.4 173.5,706.1 181.5,707.8 189.5,721.2 197.5,722.4 205.5,715.1 213.5,713.1 221.5,713.1 229.5,719.1 237.5,725.1 245.5,722.4 253.5,733.2 261.5,722.4 269.5,727.7 277.5,733.2 285.5,730 293.5,732.1 301.5,726.4 309.5,732.1 317.5,736.2 325.5,732.6 333.5,731.3 341.5,727.2 349.5,730 357.5,732.6 365.5,726.4 373.5,724 381.5,719.9 389.5,717.2 397.5,717.2 405.5,719.4 413.5,712.1 421.5,716.7 429.5,721.5 437.5,718.3 445.5,717.2 453.5,718.6 461.5,715.4 469.5,718.3 477.5,716.4 485.5,711.5 493.5,713.1 501.5,714.2 509.5,707.3 517.5,707.3 525.5,708.2 533.5,708.2 541.5,707.3 549.5,706.6 557.5,707.3 565.5,709.4 573.5,710.5 581.5,712.1 589.5,707.3 597.5,703.4 605.5,704.5 613.5,707.8 621.5,713.1 629.5,709.4 637.5,703.4 645.5,708.2 653.5,707.3 661.5,706.6 669.5,717 677.5,713.4 685.5,714.7 693.5,708.2 701.5,711.5 709.5,710.5 717.5,712.1 725.5,712.1 733.5,705.3 741.5,709.4 749.5,704.5 757.5,707.3 765.5,704.5 773.5,704 781.5,695.3 789.5,695.3 797.5,698.5 805.5,695.3 813.5,696.4 821.5,697.5 829.5,691.5 837.5,693.1 845.5,691.5 853.5,695.6 861.5,699.1 869.5,697.5 877.5,699.1 885.5,696.4 893.5,712.1 901.5,713.4 909.5,712.1 917.5,718.3 925.5,710.5 933.5,714.2 941.5,709.4 949.5,708.2 957.5,711.5 965.5,711.5 973.5,711.5 981.5,716.7 989.5,726.7 997.5,731 1005.5,731.3 1013.5,729.3 1021.5,721.9 1029.5,720.3 1037.5,721.9 1045.5,723.2 1053.5,727.2 1061.5,720.3 1069.5,719.1 1077.5,718.3 1085.5,697.5 1093.5,697.5 1101.5,696.4 1109.5,695.3 1117.5,692.3 1125.5,698.5 1133.5,698.5 1141.5,699.6 1149.5,701.3 1157.5,695.6 1165.5,693.6 1173.5,693.1 1181.5,689.4 1189.5,690.4 1197.5,694.3 1205.5,693.1 1213.5,693.1 1221.5,708.2 1229.5,708.2 1237.5,703.4 1245.5,706.6 1253.5,718.3 1261.5,707.3 1269.5,704.5 1277.5,706.6 1285.5,703.4 1293.5,710.5 1301.5,707.3 1309.5,702.1 1317.5,698 1325.5,694.3 1333.5,699.1" fill="none" stroke="#1e90ff" stroke-width="1" />
</g>
<rect x="4" y="28" width="1687" height="1" fill="#000"/>
<rect x="4" y="538" width="1687" height="1" fill="#000"/>
<rect x="4" y="28" width="1" height="511" fill="#000"/>
<rect x="1690" y="28" width="1" height="511" fill="#000"/>
<rect x="4" y="540" width="1687" height="1" fill="#000"/>
<rect x="4" y="654" width="1687" height="1" fill="#000"/>
<rect x="4" y="540" width="1" height="115" fill="#000"/>
<rect x="1690" y="540" width="1" height="115" fill="#000"/>
<rect x="4" y="656" width="1687" height="1" fill="#000"/>
<rect x="4" y="769" width="1687" height="1" fill="#000"/>
<rect x="4" y="656" width="1" height="114" fill="#000"/>
<rect x="1690" y="656" width="1" height="114" fill="#000"/>
<rect x="1691" y="40" width="2" height="1" fill="#000"/>
<text transform="matrix(0.95,0,0,1,1695.8,43.8)" fill="#000" stroke="#000" stroke-width="0.28" >4231.5</text>
<rect x="1691" y="73" width="2" height="1" fill="#000"/>
<text transform="matrix(0.95,0,0,1,1695.8,76.8)" fill="#000" stroke="#000" stroke-width="0.28" >4179.0</text>
<rect x="1691" y="106" width="2" height="1" fill="#000"/>
<text transform="matrix(0.95,0,0,1,1695.8,109.8)" fill="#000" stroke="#000" stroke-width="0.28" >4126.5</text>
<rect x="1691" y="173" width="2" height="1" fill="#000"/>
<text transform="matrix(0.95,0,0,1,1695.8,176.8)" fill="#000" stroke="#000" stroke-width="0.28" >4020.0</text>
<rect x="1691" y="206" width="2" height="1" fill="#000"/>
<text transform="matrix(0.95,0,0,1,1695.8,209.8)" fill="#000" stroke="#000" stroke-width="0.28" >3967.5</text>
<rect x="1691" y="239" width="2" height="1" fill="#000"/>
<text transform="matrix(0.95,0,0,1,1695.8,242.8)" fill="#000" stroke="#000" stroke-width="0.28" >3915.0</text>
<rect x="1691" y="272" width="2" height="1" fill="#000"/>
<text transform="matrix(0.95,0,0,1,1695.8,275.8)" fill="#000" stroke="#000" stroke-width="0.28" >3862.5</text>
<rect x="1691" y="304" width="2" height="1" fill="#000"/>
<text transform="matrix(0.95,0,0,1,1695.8,307.8)" fill="#000" stroke="#000" stroke-width="0.28" >3810.0</text>
<rect x="1691" y="337" width="2" height="1" fill="#000"/>
<text transform="matrix(0.95,0,0,1,1695.8,340.8)" fill="#000" stroke="#000" stroke-width="0.28" >3757.5</text>
<rect x="1691" y="370" width="2" height="1" fill="#000"/>
<text transform="matrix(0.95,0,0,1,1695.8,373.8)" fill="#000" stroke="#000" stroke-width="0.28" >3705.0</text>
<rect x="1691" y="436" width="2" height="1" fill="#000"/>
<text transform="matrix(0.95,0,0,1,1695.8,439.8)" fill="#000" stroke="#000" stroke-width="0.28" >3600.0</text>
<rect x="1691" y="469" width="2" height="1" fill="#000"/>
<text transform="matrix(0.95,0,0,1,1695.8,472.8)" fill="#000" stroke="#000" stroke-width="0.28" >3547.5</text>
<rect x="1691" y="502" width="2" height="1" fill="#000"/>
<text transform="matrix(0.95,0,0,1,1695.8,505.8)" fill="#000" stroke="#000" stroke-width="0.28" >3495.0</text>
<rect x="1691" y="535" width="2" height="1" fill="#000"/>
<text transform="matrix(0.95,0,0,1,1695.8,538.8)" fill="#000" stroke="#000" stroke-width="0.28" >3442.5</text>
<rect x="1692" y="76" width="33" height="11" fill="#ff0000"/>
<text transform="matrix(0.95,0,0,1,1695.8,84.8)" fill="#fff" stroke="#fff" stroke-width="0.28" >4165.0</text>
<rect x="1692" y="132" width="33" height="11" fill="#ff0000"/>
<text transform="matrix(0.95,0,0,1,1695.8,140.8)" fill="#fff" stroke="#fff" stroke-width="0.28" >4075.0</text>
<rect x="1692" y="149" width="33" height="11" fill="#000"/>
<text transform="matrix(0.95,0,0,1,1695.8,157.8)" fill="#fff" stroke="#fff" stroke-width="0.28" >4050.2</text>
<rect x="1692" y="210" width="33" height="11" fill="#32cd32"/>
<text transform="matrix(0.95,0,0,1,1695.8,218.8)" fill="#fff" stroke="#fff" stroke-width="0.28" >3950.0</text>
<rect x="1692" y="286" width="33" height="11" fill="#4169e1"/>
<text transform="matrix(0.95,0,0,1,1695.8,294.8)" fill="#fff" stroke="#fff" stroke-width="0.28" >3830.0</text>
<rect x="1692" y="345" width="33" height="11" fill="#4169e1"/>
<text transform="matrix(0.95,0,0,1,1695.8,353.8)" fill="#fff" stroke="#fff" stroke-width="0.28" >3735.0</text>
<rect x="1692" y="399" width="33" height="11" fill="#4169e1"/>
<text transform="matrix(0.95,0,0,1,1695.8,407.8)" fill="#fff" stroke="#fff" stroke-width="0.28" >3650.0</text>
<text transform="matrix(0.95,0,0,1,1695.8,550.8)" fill="#000" stroke="#000" stroke-width="0.28" >56.71</text>
<text transform="matrix(0.95,0,0,1,1695.8,577.8)" fill="#000" stroke="#000" stroke-width="0.28" >0.00</text>
<text transform="matrix(0.95,0,0,1,1695.8,651.8)" fill="#000" stroke="#000" stroke-width="0.28" >-137.01</text>
<rect x="1691" y="574" width="2" height="1" fill="#000"/>
<text transform="matrix(0.95,0,0,1,1695.8,666.8)" fill="#000" stroke="#000" stroke-width="0.28" >100</text>
<text transform="matrix(0.95,0,0,1,1695.8,694.8)" fill="#000" stroke="#000" stroke-width="0.28" >70</text>
<text transform="matrix(0.95,0,0,1,1695.8,738.8)" fill="#000" stroke="#000" stroke-width="0.28" >30</text>
<text transform="matrix(0.95,0,0,1,1695.8,765.8)" fill="#000" stroke="#000" stroke-width="0.28" >0</text>
<rect x="1691" y="691" width="2" height="1" fill="#000"/>
<rect x="1691" y="735" width="2" height="1" fill="#000"/>
<rect x="5" y="770" width="1" height="3" fill="#000"/>
<text transform="matrix(0.95,0,0,1,4,782)" fill="#000" stroke="#000" stroke-width="0.28" >20 Feb 2020</text>
<rect x="69" y="770" width="1" height="3" fill="#000"/>
<text transform="matrix(0.95,0,0,1,68,782)" fill="#000" stroke="#000" stroke-width="0.28" >26 Feb 05:00</text>
<rect x="133" y="770" width="1" height="3" fill="#000"/>
<text transform="matrix(0.95,0,0,1,132,782)" fill="#000" stroke="#000" stroke-width="0.28" >3 Mar 05:00</text>
<rect x="197" y="770" width="1" height="3" fill="#000"/>
<text transform="matrix(0.95,0,0,1,196,782)" fill="#000" stroke="#000" stroke-width="0.28" >9 Mar 05:00</text>
<rect x="261" y="770" width="1" height="3" fill="#000"/>
<text transform="matrix(0.95,0,0,1,260,782)" fill="#000" stroke="#000" stroke-width="0.28" >13 Mar 05:00</text>
<rect x="325" y="770" width="1" height="3" fill="#000"/>
<text transform="matrix(0.95,0,0,1,324,782)" fill="#000" stroke="#000" stroke-width="0.28" >19 Mar 05:00</text>
<rect x="389" y="770" width="1" height="3" fill="#000"/>
<text transform="matrix(0.95,0,0,1,388,782)" fill="#000" stroke="#000" stroke-width="0.28" >25 Mar 05:00</text>
<rect x="453" y="770" width="1" height="3" fill="#000"/>
<text transform="matrix(0.95,0,0,1,452,782)" fill="#000" stroke="#000" stroke-width="0.28" >31 Mar 05:00</text>
<rect x="517" y="770" width="1" height="3" fill="#000"/>
<text transform="matrix(0.95,0,0,1,516,782)" fill="#000" stroke="#000" stroke-width="0.28" >7 Apr 05:00</text>
<rect x="581" y="770" width="1" height="3" fill="#000"/>
<text transform="matrix(0.95,0,0,1,580,782)" fill="#000" stroke="#000" stroke-width="0.28" >13 Apr 05:00</text>
<rect x="645" y="770" width="1" height="3" fill="#000"/>
<text transform="matrix(0.95,0,0,1,644,782)" fill="#000" stroke="#000" stroke-width="0.28" >17 Apr 05:00</text>
<rect x="709" y="770" width="1" height="3" fill="#000"/>
<text transform="matrix(0.95,0,0,1,708,782)" fill="#000" stroke="#000" stroke-width="0.28" >23 Apr 05:00</text>
<rect x="773" y="770" width="1" height="3" fill="#000"/>
<text transform="matrix(0.95,0,0,1,772,782)" fill="#000" stroke="#000" stroke-width="0.28" >29 Apr 05:00</text>
<rect x="837" y="770" width="1" height="3" fill="#000"/>
<text transform="matrix(0.95,0,0,1,836,782)" fill="#000" stroke="#000" stroke-width="0.28" >8 May 05:00</text>
<rect x="901" y="770" width="1" height="3" fill="#000"/>
<text transform="matrix(0.95,0,0,1,900,782)" fill="#000" stroke="#000" stroke-width="0.28" >14 May 05:00</text>
<rect x="965" y="770" width="1" height="3" fill="#000"/>
<text transform="matrix(0.95,0,0,1,964,782)" fill="#000" stroke="#000" stroke-width="0.28" >20 May 05:00</text>
<rect x="1029" y="770" width="1" height="3" fill="#000"/>
<text transform="matrix(0.95,0,0,1,1028,782)" fill="#000" stroke="#000" stroke-width="0.28" >26 May 05:00</text>
<rect x="1093" y="770" width="1" height="3" fill="#000"/>
<text transform="matrix(0.95,0,0,1,1092,782)" fill="#000" stroke="#000" stroke-width="0.28" >1 Jun 05:00</text>
<rect x="1157" y="770" width="1" height="3" fill="#000"/>
<text transform="matrix(0.95,0,0,1,1156,782)" fill="#000" stroke="#000" stroke-width="0.28" >5 Jun 05:00</text>
<rect x="1221" y="770" width="1" height="3" fill="#000"/>
<text transform="matrix(0.95,0,0,1,1220,782)" fill="#000" stroke="#000" stroke-width="0.28" >11 Jun 05:00</text>
<rect x="1285" y="770" width="1" height="3" fill="#000"/>
<text transform="matrix(0.95,0,0,1,1284,782)" fill="#000" stroke="#000" stroke-width="0.28" >17 Jun 05:00</text>
<polygon points="8,35 15,35 11.5,39" fill="#000"/>
<text transform="matrix(0.95,0,0,1,20.3,39.8)" fill="#000" stroke="#000" stroke-width="0.28" letter-spacing="0.22">CHINA300-,H4</text>
<text transform="matrix(0.95,0,0,1,90.6,39.8)" fill="#000" stroke="#000" stroke-width="0.28" >4070.6 4073.4 4037.8 4050.2</text>
<text transform="matrix(0.95,0,0,1,9,553)" fill="#000" stroke="#000" stroke-width="0.28" letter-spacing="0.16">MACD(12,26,9) 28.11 21.59</text>
<text transform="matrix(0.95,0,0,1,9,669)" fill="#000" stroke="#000" stroke-width="0.28" >RSI(14) 62.0784</text>
<text x="1233.5" y="476.3" fill="#ed1c24" style="font-family:'Liberation Sans','Noto Sans CJK SC',sans-serif;font-size:38px;letter-spacing:-2px">多空转折点</text>
<text transform="translate(1415.6,475) scale(1,1.08)" x="0" y="0" fill="#ed1c24" style="font-family:'Liberation Sans',sans-serif;font-size:37px">3950</text>
<rect x="1" y="5" width="1" height="1" fill="#404040"/>
<rect x="3" y="5" width="1" height="1" fill="#404040"/>
<rect x="5" y="5" width="1" height="1" fill="#404040"/>
<rect x="7" y="5" width="1" height="1" fill="#404040"/>
<rect x="9" y="5" width="1" height="1" fill="#404040"/>
<rect x="11" y="5" width="1" height="1" fill="#404040"/>
<rect x="13" y="5" width="1" height="1" fill="#404040"/>
<rect x="1" y="8" width="1" height="1" fill="#404040"/>
<rect x="3" y="8" width="1" height="1" fill="#404040"/>
<rect x="5" y="8" width="1" height="1" fill="#404040"/>
<rect x="7" y="8" width="1" height="1" fill="#404040"/>
<rect x="9" y="8" width="1" height="1" fill="#404040"/>
<rect x="11" y="8" width="1" height="1" fill="#404040"/>
<rect x="13" y="8" width="1" height="1" fill="#404040"/>
<rect x="1" y="12" width="1" height="1" fill="#404040"/>
<rect x="3" y="12" width="1" height="1" fill="#404040"/>
<rect x="5" y="12" width="1" height="1" fill="#404040"/>
<rect x="7" y="12" width="1" height="1" fill="#404040"/>
<rect x="9" y="12" width="1" height="1" fill="#404040"/>
<rect x="11" y="12" width="1" height="1" fill="#404040"/>
<rect x="13" y="12" width="1" height="1" fill="#404040"/>
<rect x="1" y="16" width="1" height="1" fill="#404040"/>
<rect x="3" y="16" width="1" height="1" fill="#404040"/>
<rect x="5" y="16" width="1" height="1" fill="#404040"/>
<rect x="7" y="16" width="1" height="1" fill="#404040"/>
<rect x="9" y="16" width="1" height="1" fill="#404040"/>
<text x="10" y="20.8" fill="#404040" style="font-size:8px;font-weight:bold">F</text>
<text x="31.4" y="17.1" fill="#555" style="font-size:12.6px;font-weight:bold">A</text>
<rect x="58" y="6" width="1" height="1" fill="#555"/>
<rect x="58" y="18" width="1" height="1" fill="#555"/>
<rect x="60" y="6" width="1" height="1" fill="#555"/>
<rect x="60" y="18" width="1" height="1" fill="#555"/>
<rect x="62" y="6" width="1" height="1" fill="#555"/>
<rect x="62" y="18" width="1" height="1" fill="#555"/>
<rect x="64" y="6" width="1" height="1" fill="#555"/>
<rect x="64" y="18" width="1" height="1" fill="#555"/>
<rect x="66" y="6" width="1" height="1" fill="#555"/>
<rect x="66" y="18" width="1" height="1" fill="#555"/>
<rect x="68" y="6" width="1" height="1" fill="#555"/>
<rect x="68" y="18" width="1" height="1" fill="#555"/>
<rect x="58" y="6" width="1" height="1" fill="#555"/>
<rect x="69" y="6" width="1" height="1" fill="#555"/>
<rect x="58" y="8" width="1" height="1" fill="#555"/>
<rect x="69" y="8" width="1" height="1" fill="#555"/>
<rect x="58" y="10" width="1" height="1" fill="#555"/>
<rect x="69" y="10" width="1" height="1" fill="#555"/>
<rect x="58" y="12" width="1" height="1" fill="#555"/>
<rect x="69" y="12" width="1" height="1" fill="#555"/>
<rect x="58" y="14" width="1" height="1" fill="#555"/>
<rect x="69" y="14" width="1" height="1" fill="#555"/>
<rect x="58" y="16" width="1" height="1" fill="#555"/>
<rect x="69" y="16" width="1" height="1" fill="#555"/>
<rect x="58" y="18" width="1" height="1" fill="#555"/>
<rect x="69" y="18" width="1" height="1" fill="#555"/>
<rect x="57" y="5" width="2" height="1" fill="#555"/>
<text x="60" y="17" fill="#555" style="font-size:11.5px;font-weight:bold">T</text>
<polygon points="88,6 91.5,9.5 84.5,9.5" fill="#555"/><polygon points="85,9 92,9 88.5,11.5" fill="#555"/>
<polyline points="86.8,12.8 89.2,15.2 93.8,10.6" fill="none" stroke="#333" stroke-width="1.5" shape-rendering="auto"/>
<polygon points="92,15 99,15 95.5,19" fill="#555"/><polygon points="93,15 98,15 95.5,12.5" fill="#555"/>
<polygon points="105.5,11 111,11 108.25,14" fill="#000"/>
<rect x="117" y="0" width="1" height="24" fill="#a0a0a0"/>
<rect x="118" y="0" width="1" height="24" fill="#fff"/>
<rect x="121" y="2" width="3" height="1" fill="#a8a8a8"/>
<rect x="121" y="4" width="3" height="1" fill="#a8a8a8"/>
<rect x="121" y="6" width="3" height="1" fill="#a8a8a8"/>
<rect x="121" y="8" width="3" height="1" fill="#a8a8a8"/>
<rect x="121" y="10" width="3" height="1" fill="#a8a8a8"/>
<rect x="121" y="12" width="3" height="1" fill="#a8a8a8"/>
<rect x="121" y="14" width="3" height="1" fill="#a8a8a8"/>
<rect x="121" y="16" width="3" height="1" fill="#a8a8a8"/>
<rect x="121" y="18" width="3" height="1" fill="#a8a8a8"/>
<rect x="121" y="20" width="3" height="1" fill="#a8a8a8"/>
<rect x="267" y="0" width="26" height="23" fill="#fff"/>
<rect x="267" y="0" width="25" height="1" fill="#a0a0a0"/>
<rect x="267" y="0" width="1" height="22" fill="#a0a0a0"/>
<rect x="268" y="1" width="24" height="21" fill="url(#chk)"/>
<text transform="matrix(1,0,0,1,131.5,16)" fill="#3a3a3a" stroke="#3a3a3a" stroke-width="0.28" style="font-size:10.2px">M1</text>
<text transform="matrix(1,0,0,1,159.7,16)" fill="#3a3a3a" stroke="#3a3a3a" stroke-width="0.28" style="font-size:10.2px">M5</text>
<text transform="matrix(1,0,0,1,185.7,16)" fill="#3a3a3a" stroke="#3a3a3a" stroke-width="0.28" style="font-size:10.2px">M15</text>
<text transform="matrix(1,0,0,1,213.9,16)" fill="#3a3a3a" stroke="#3a3a3a" stroke-width="0.28" style="font-size:10.2px">M30</text>
<text transform="matrix(1,0,0,1,244.7,16)" fill="#3a3a3a" stroke="#3a3a3a" stroke-width="0.28" style="font-size:10.2px">H1</text>
<text transform="matrix(1,0,0,1,271.8,16)" fill="#3a3a3a" stroke="#3a3a3a" stroke-width="0.28" style="font-size:10.2px">H4</text>
<text transform="matrix(1,0,0,1,300.8,16)" fill="#3a3a3a" stroke="#3a3a3a" stroke-width="0.28" style="font-size:10.2px">D1</text>
<text transform="matrix(1,0,0,1,327.9,16)" fill="#3a3a3a" stroke="#3a3a3a" stroke-width="0.28" style="font-size:10.2px">W1</text>
<text transform="matrix(1,0,0,1,355,16)" fill="#3a3a3a" stroke="#3a3a3a" stroke-width="0.28" style="font-size:10.2px">MN</text>
<rect x="378" y="0" width="1" height="24" fill="#a0a0a0"/>
<rect x="379" y="0" width="1" height="24" fill="#fff"/>
</svg>
</body></html>
